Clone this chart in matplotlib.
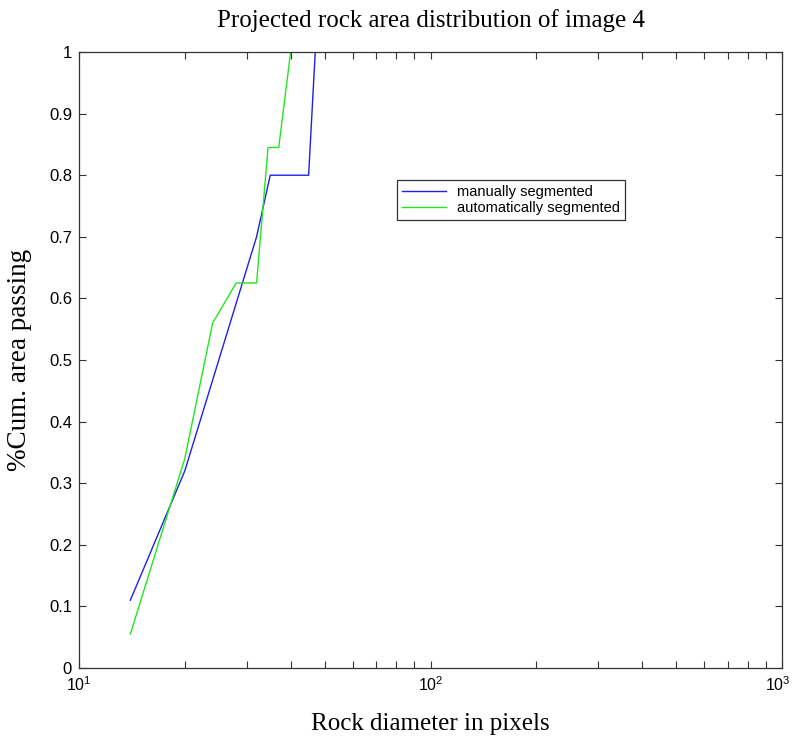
import matplotlib
matplotlib.use("Agg")
import matplotlib.pyplot as plt
from matplotlib.ticker import FixedLocator, LogLocator, NullFormatter
from matplotlib.transforms import ScaledTranslation

# Cumulative projected-area curves (rock diameter in pixels vs fraction passing)
manual_diam = [14, 20, 32, 35, 45, 47]
manual_frac = [0.11, 0.32, 0.70, 0.80, 0.80, 1.00]

auto_diam = [14, 20, 24, 28, 32, 34.5, 37, 40]
auto_frac = [0.055, 0.34, 0.56, 0.625, 0.625, 0.845, 0.845, 1.00]

y_ticks = [0, 0.1, 0.2, 0.3, 0.4, 0.5, 0.6, 0.7, 0.8, 0.9, 1]
y_tick_labels = ["0", "0.1", "0.2", "0.3", "0.4", "0.5", "0.6", "0.7", "0.8", "0.9", "1"]
x_ticks = [10, 100, 1000]

plt.rcParams["mathtext.fontset"] = "custom"
plt.rcParams["mathtext.rm"] = "Liberation Sans"
plt.rcParams["mathtext.it"] = "Liberation Sans:italic"

fig = plt.figure(figsize=(7.93, 7.38), dpi=100)
ax = fig.add_axes([0.0996, 0.0949, 0.8866, 0.8346])

ax.plot(manual_diam, manual_frac, color="#1f1fe6", lw=1.0, label="manually segmented")
ax.plot(auto_diam, auto_frac, color="#22e622", lw=1.0, label="automatically segmented")

ax.set_xscale("log")
ax.set_xlim(10, 1000)
ax.set_ylim(0, 1)
ax.yaxis.set_major_locator(FixedLocator(y_ticks))
ax.set_yticklabels(y_tick_labels)
ax.xaxis.set_major_locator(FixedLocator(x_ticks))
ax.xaxis.set_minor_locator(LogLocator(base=10, subs=range(2, 10)))
ax.xaxis.set_minor_formatter(NullFormatter())

ax.tick_params(which="both", direction="in", top=True, right=True,
               labelsize=12, colors="#333333", labelcolor="black",
               width=0.8, length=5)
ax.tick_params(axis="x", which="major", pad=5, labelsize=11.5)
ax.tick_params(axis="y", pad=5)
for lab in ax.get_xticklabels() + ax.get_yticklabels():
    lab.set_fontfamily("Liberation Sans")

# keep the rightmost decade label inside the canvas
for tick in ax.xaxis.get_major_ticks():
    if tick.get_loc() == x_ticks[-1]:
        tick.label1.set_horizontalalignment("right")
        tick.label1.set_transform(tick.label1.get_transform()
                                  + ScaledTranslation(0.085, 0, fig.dpi_scale_trans))

for sp in ax.spines.values():
    sp.set_color("#333333")
    sp.set_linewidth(0.9)

serif = "Liberation Serif"
ax.set_title("Projected rock area distribution of image 4", fontsize=18,
             fontfamily=serif, pad=18)
ax.set_xlabel("Rock diameter in pixels", fontsize=18, fontfamily=serif, labelpad=14)
ax.set_ylabel("%Cum. area passing", fontsize=19.5, fontfamily=serif, labelpad=12)

leg = ax.legend(loc="upper left", bbox_to_anchor=(0.452, 0.792),
                prop={"family": "Liberation Sans", "size": 10.5},
                frameon=True, fancybox=False, framealpha=1, borderpad=0.35,
                handlelength=3.0, handletextpad=0.8, labelspacing=0.1,
                borderaxespad=0)
leg.get_frame().set_edgecolor("#333333")
leg.get_frame().set_linewidth(0.9)

fig.savefig("out.png", dpi=100)
